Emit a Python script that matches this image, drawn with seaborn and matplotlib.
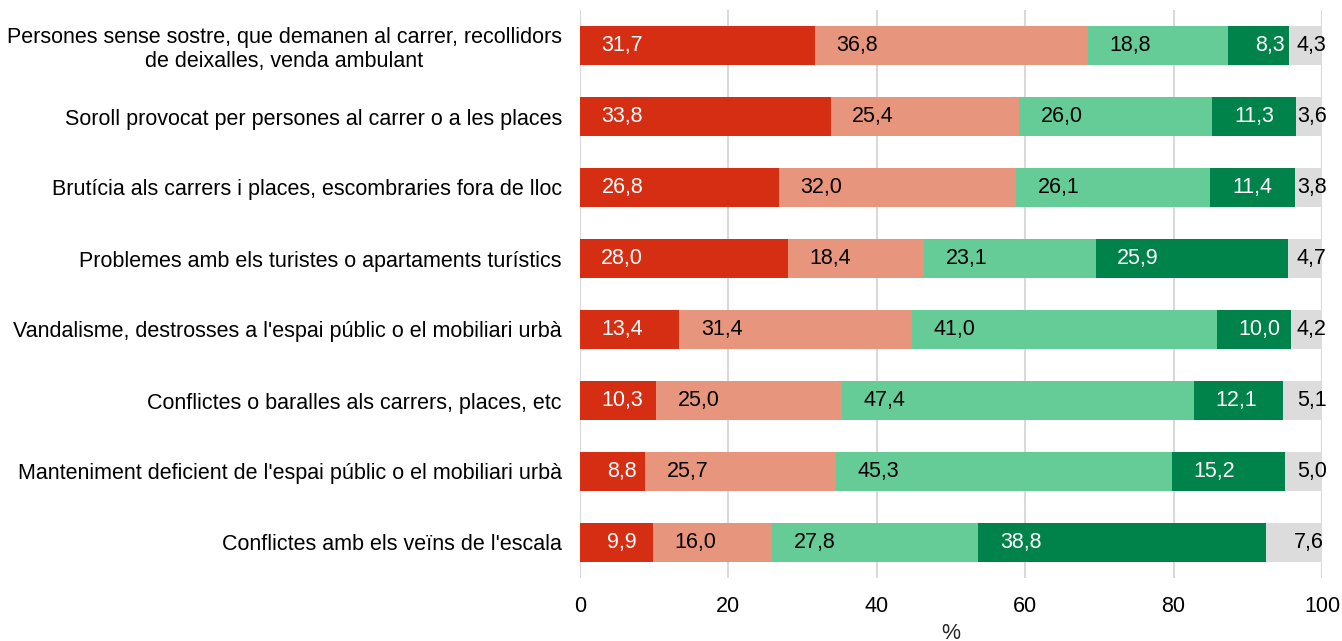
import numpy as np
import pandas as pd
import matplotlib
matplotlib.use("Agg")
import matplotlib.pyplot as plt
import seaborn as sns

categories = [
    "Persones sense sostre, que demanen al carrer, recollidors\nde deixalles, venda ambulant",
    "Soroll provocat per persones al carrer o a les places",
    "Brutícia als carrers i places, escombraries fora de lloc",
    "Problemes amb els turistes o apartaments turístics",
    "Vandalisme, destrosses a l'espai públic o el mobiliari urbà",
    "Conflictes o baralles als carrers, places, etc",
    "Manteniment deficient de l'espai públic o el mobiliari urbà",
    "Conflictes amb els veïns de l'escala",
]

level_1 = [31.7, 33.8, 26.8, 28.0, 13.4, 10.3, 8.8, 9.9]
level_2 = [36.8, 25.4, 32.0, 18.4, 31.4, 25.0, 25.7, 16.0]
level_3 = [18.8, 26.0, 26.1, 23.1, 41.0, 47.4, 45.3, 27.8]
level_4 = [8.3, 11.3, 11.4, 25.9, 10.0, 12.1, 15.2, 38.8]
level_5 = [4.3, 3.6, 3.8, 4.7, 4.2, 5.1, 5.0, 7.6]

x_ticks = [0, 20, 40, 60, 80, 100]

series = [level_1, level_2, level_3, level_4, level_5]
colors = ["#D62E13", "#E8957D", "#65CC98", "#00834B", "#DCDCDC"]
text_colors = ["white", "black", "black", "white", "black"]

sns.set_theme(style="white")
plt.rcParams["font.family"] = ["Liberation Sans", "DejaVu Sans"]

FS = 15.5

vals = np.array(series)
cum = np.cumsum(vals, axis=0)
starts = cum - vals

fig = plt.figure(figsize=(13.42, 6.41), dpi=100)
ax = fig.add_axes([580 / 1342, 1 - 578 / 641, 742 / 1342, 568 / 641])

for x in x_ticks:
    ax.axvline(x, color="#D9D9D9", lw=1.5, zorder=0)

# stacked bars: draw cumulative totals from the outermost layer inwards
for i in reversed(range(len(series))):
    df = pd.DataFrame({"cat": categories, "value": cum[i]})
    sns.barplot(data=df, x="value", y="cat", orient="h", color=colors[i],
                saturation=1, width=0.55, ax=ax, zorder=2, linewidth=0)

# value labels
for i in range(len(series)):
    for j in range(len(categories)):
        xc = min(starts[i, j] + 5.7, 98.6)
        ax.text(xc, j, f"{vals[i, j]:.1f}".replace(".", ","),
                ha="center", va="center", color=text_colors[i],
                fontsize=FS, zorder=3)

ax.set_xlim(0, 100)
ax.set_ylim(len(categories) - 0.5, -0.5)
ax.set_xticks(x_ticks)
ax.set_xticklabels([str(t) for t in x_ticks])
ax.set_ylabel("")
ax.set_xlabel("%", fontsize=FS, labelpad=4)
ax.tick_params(axis="both", length=0, labelsize=FS, colors="black")
ax.tick_params(axis="y", pad=13)
ax.tick_params(axis="x", pad=13)
for lab in ax.get_yticklabels():
    lab.set_multialignment("center")
for s in ax.spines.values():
    s.set_visible(False)

fig.savefig("out.png", dpi=100)
